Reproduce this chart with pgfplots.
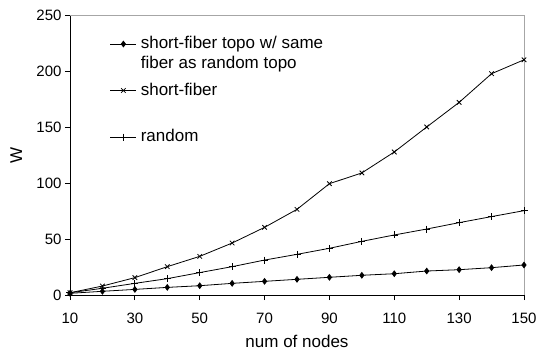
\documentclass[border=0pt]{standalone}
\usepackage{fontspec}
\setmainfont{Liberation Sans}
\usepackage{pgfplots}
\pgfplotsset{compat=1.18}
\begin{document}
\begin{tikzpicture}
\begin{axis}[
  scale only axis, width=454bp, height=280bp,
  xmin=10, xmax=150, ymin=0, ymax=250,
  xtick={10,30,...,150}, ytick={0,50,...,250},
  tick align=outside, tick pos=left, major tick length=5bp,
  axis x line*=bottom, axis y line*=left,
  x axis line style={-}, y axis line style={-},
  axis line style={black, line width=0.8bp},
  tick style={black, line width=0.8bp},
  tick label style={font=\fontsize{15bp}{18bp}\selectfont},
  xticklabel style={yshift=-10bp},
  /pgf/number format/assume math mode=true,
  label style={font=\fontsize{17bp}{19.5bp}\selectfont},
  xlabel={num of nodes}, ylabel={W},
  xlabel style={at={(axis description cs:0.5,0)}, anchor=base, yshift=-52.5bp},
  ylabel style={at={(axis description cs:-0.1057,0.5)}, anchor=base},
  clip=false,
  legend style={draw=none, fill=none, inner sep=0pt, outer sep=0pt,
    at={(axis description cs:0.0881,0.9196)}, anchor=north west,
    row sep=35.5bp, column sep=4bp,
    font=\fontsize{17bp}{19.5bp}\selectfont,
    nodes={inner sep=0pt, anchor=base west, text height=11bp, text depth=0pt}},
  legend image code/.code={\draw[#1, mark repeat=2, mark phase=2] plot coordinates {(0bp,4.5bp) (13bp,4.5bp) (26bp,4.5bp)};},
  every axis plot/.append style={black, line width=0.8bp, mark options={solid, fill=black}},
]
\draw[gray!70, line width=0.8bp] (rel axis cs:0,1) -- (rel axis cs:1,1) -- (rel axis cs:1,0);
\addplot[mark=diamond*, mark size=2.8bp] coordinates {
(10,1.5) (20,3.3) (30,5) (40,6.8) (50,8.3) (60,10.4) (70,12.2) (80,14) (90,15.8) (100,17.6) (110,19) (120,21.4) (130,22.6) (140,24.4) (150,26.8)};
\addlegendentry{\begin{tabular}[t]{@{}l@{}}short-fiber topo w/ same\\fiber as random topo\end{tabular}}
\addplot[mark=x, mark size=3.2bp] coordinates {
(10,2) (20,8) (30,15.5) (40,25.3) (50,34.5) (60,46.4) (70,60.4) (80,76.5) (90,99.4) (100,109) (110,127.7) (120,150) (130,172) (140,197.6) (150,210)};
\addlegendentry{short-fiber}
\addplot[mark=+, mark size=3.5bp] coordinates {
(10,2) (20,6) (30,10.4) (40,14.6) (50,20) (60,25.3) (70,31.2) (80,36.3) (90,41.7) (100,47.9) (110,53.6) (120,58.9) (130,64.6) (140,70) (150,75.3)};
\addlegendentry{random}
\end{axis}
\pgfresetboundingbox
\path (-70bp,-56bp) rectangle (469bp,295bp);
\end{tikzpicture}
\end{document}
